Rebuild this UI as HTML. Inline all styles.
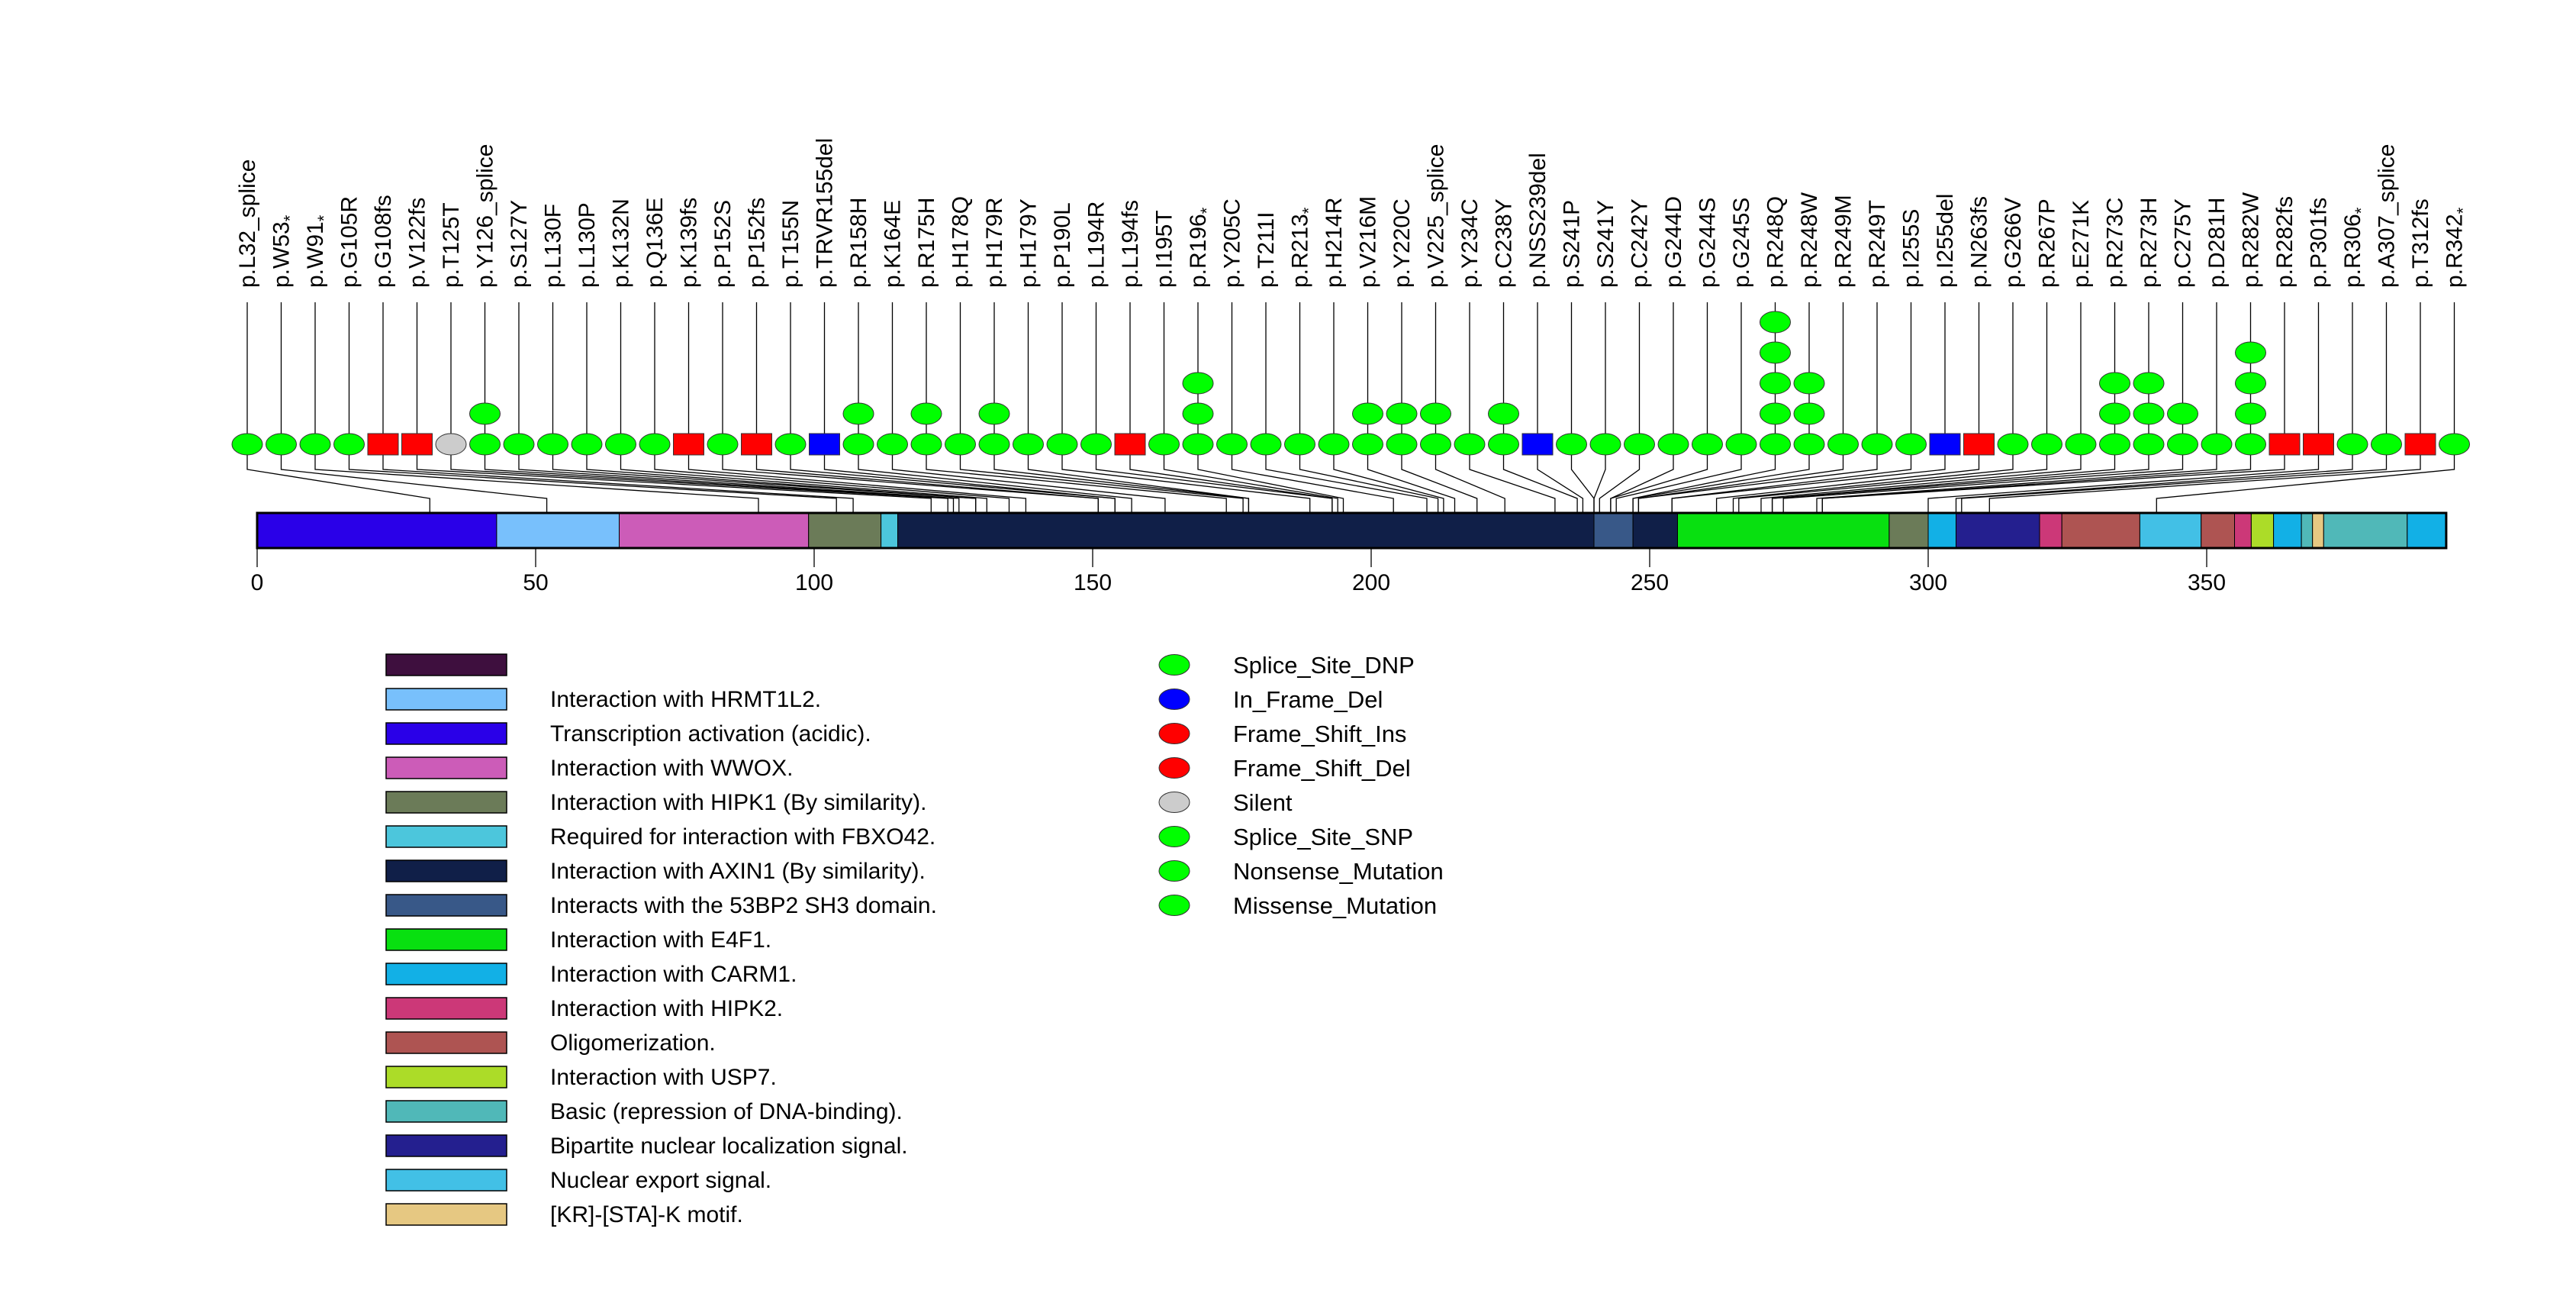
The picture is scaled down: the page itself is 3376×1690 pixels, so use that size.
<!DOCTYPE html>
<html><head><meta charset="utf-8"><style>
html,body{margin:0;padding:0;background:#fff;}
svg{display:block;font-family:"Liberation Sans",Arial,sans-serif;}
</style></head><body>
<svg id="chart" width="3376" height="1690" viewBox="0 0 3376 1690" xmlns="http://www.w3.org/2000/svg">
<rect x="0" y="0" width="3376" height="1690" fill="#fff"/>
<g id="connectors"></g>
<g id="protein"></g>
<g id="axis"></g>
<g id="markers"></g>
<g id="labels"></g>
<g id="legend1"></g>
<g id="legend2"></g>
</svg>
<script>
const mutLabels = ["p.L32_splice","p.W53*","p.W91*","p.G105R","p.G108fs","p.V122fs","p.T125T","p.Y126_splice","p.S127Y","p.L130F","p.L130P","p.K132N","p.Q136E","p.K139fs","p.P152S","p.P152fs","p.T155N","p.TRVR155del","p.R158H","p.K164E","p.R175H","p.H178Q","p.H179R","p.H179Y","p.P190L","p.L194R","p.L194fs","p.I195T","p.R196*","p.Y205C","p.T211I","p.R213*","p.H214R","p.V216M","p.Y220C","p.V225_splice","p.Y234C","p.C238Y","p.NSS239del","p.S241P","p.S241Y","p.C242Y","p.G244D","p.G244S","p.G245S","p.R248Q","p.R248W","p.R249M","p.R249T","p.I255S","p.I255del","p.N263fs","p.G266V","p.R267P","p.E271K","p.R273C","p.R273H","p.C275Y","p.D281H","p.R282W","p.R282fs","p.P301fs","p.R306*","p.A307_splice","p.T312fs","p.R342*"];
const mutPositions = [32,53,91,105,108,122,125,126,127,130,130,132,136,139,152,152,155,155,158,164,175,178,179,179,190,194,194,195,196,205,211,213,214,216,220,225,234,238,239,241,241,242,244,244,245,248,248,249,249,255,255,263,266,267,271,273,273,275,281,282,282,301,306,307,312,342];
const mutCounts = [1,1,1,1,1,1,1,2,1,1,1,1,1,1,1,1,1,1,2,1,2,1,2,1,1,1,1,1,3,1,1,1,1,2,2,2,1,2,1,1,1,1,1,1,1,5,3,1,1,1,1,1,1,1,1,3,3,2,1,4,1,1,1,1,1,1];
const mutTypes = ["g","g","g","g","fs","fs","silent","g","g","g","g","g","g","fs","g","fs","g","del","g","g","g","g","g","g","g","g","fs","g","g","g","g","g","g","g","g","g","g","g","del","g","g","g","g","g","g","g","g","g","g","g","del","fs","g","g","g","g","g","g","g","g","fs","fs","g","g","fs","g"];
const domainStarts = [0,43,65,99,112,115,240,247,255,293,300,305,320,324,338,349,355,358,362,367,369,371,386];
const domainEnds =   [43,65,99,112,115,240,247,255,293,300,305,320,324,338,349,355,358,362,367,369,371,386,393];
const domainColors = ["#2a00e8","#78c0fc","#cc5cb8","#6b7b58","#4cc6dc","#101f48","#385888","#101f48","#08e010","#6b7b58","#12b0e6","#241f8f","#cc3878","#ae5452","#42c0e6","#ae5452","#cc3878","#acdc28","#12b0e6","#50b8b8","#e6c882","#50b8b8","#12b0e6"];
const axisTicks = [0,50,100,150,200,250,300,350];
const legendDomainNames = ["","Interaction with HRMT1L2.","Transcription activation (acidic).","Interaction with WWOX.","Interaction with HIPK1 (By similarity).","Required for interaction with FBXO42.","Interaction with AXIN1 (By similarity).","Interacts with the 53BP2 SH3 domain.","Interaction with E4F1.","Interaction with CARM1.","Interaction with HIPK2.","Oligomerization.","Interaction with USP7.","Basic (repression of DNA-binding).","Bipartite nuclear localization signal.","Nuclear export signal.","[KR]-[STA]-K motif."];
const legendDomainColors = ["#3e0f3e","#78c0fc","#2a00e8","#cc5cb8","#6b7b58","#4cc6dc","#101f48","#385888","#08e010","#12b0e6","#cc3878","#ae5452","#acdc28","#50b8b8","#241f8f","#42c0e6","#e6c882"];
const legendTypeNames = ["Splice_Site_DNP","In_Frame_Del","Frame_Shift_Ins","Frame_Shift_Del","Silent","Splice_Site_SNP","Nonsense_Mutation","Missense_Mutation"];
const legendTypeColors = ["#00ff00","#0000ff","#ff0000","#ff0000","#cccccc","#00ff00","#00ff00","#00ff00"];

const NS="http://www.w3.org/2000/svg";
function mk(tag, attrs, parent){const e=document.createElementNS(NS,tag);for(const k in attrs)e.setAttribute(k,attrs[k]);parent.appendChild(e);return e;}
const xAA = aa => 337 + aa*7.3;
const xMut = aa => xAA(aa-1);
const xSlot = i => 324 + i*44.5;
const barTop=672, barBot=718;
const rowY = k => 582 - k*40;

const conn=document.getElementById('connectors');
const prot=document.getElementById('protein');
const axis=document.getElementById('axis');
const markers=document.getElementById('markers');
const labels=document.getElementById('labels');

for(let i=0;i<domainStarts.length;i++){
  const r=mk('rect',{x:xAA(domainStarts[i]),y:barTop,width:xAA(domainEnds[i])-xAA(domainStarts[i]),height:barBot-barTop,fill:domainColors[i],stroke:'#000','stroke-width':1},prot);
  
  
}
for(let i=0;i<mutPositions.length;i++){
  const mx=xMut(mutPositions[i]), sx=xSlot(i);
  const pl=mk('polyline',{points:`${sx},396 ${sx},615 ${mx},653 ${mx},${barBot}`,fill:'none',stroke:'#000','stroke-width':1.3},conn);
  
  
}
const outline=mk('rect',{x:xAA(0),y:barTop,width:xAA(393)-xAA(0),height:barBot-barTop,fill:'none',stroke:'#000','stroke-width':3},prot);


for(const t of axisTicks){
  const ln=mk('line',{x1:xAA(t),x2:xAA(t),y1:barBot,y2:743,stroke:'#000','stroke-width':1.3},axis);
  
  
  const tx=mk('text',{x:xAA(t),y:773,'font-size':30,'text-anchor':'middle',fill:'#000'},axis);
  tx.textContent=t;
  
  
}
for(let i=0;i<mutPositions.length;i++){
  const sx=xSlot(i);
  for(let k=0;k<mutCounts[i];k++){
    const cy=rowY(k);
    let m;
    if(mutTypes[i]==='fs'||mutTypes[i]==='del'){
      m=mk('rect',{x:sx-20,y:cy-14,width:40,height:28,fill:mutTypes[i]==='fs'?'#ff0000':'#0000ff',stroke:'#333','stroke-width':1},markers);
    } else {
      m=mk('ellipse',{cx:sx,cy:cy,rx:20,ry:14,fill:mutTypes[i]==='silent'?'#cccccc':'#00ff00',stroke:'#333','stroke-width':1},markers);
    }
    
    
  }
  const lbl=mutLabels[i];
  const t=mk('text',{x:0,y:0,'font-size':30,fill:'#000',transform:`translate(${sx+10},377) rotate(-90)`},labels);
  if(lbl.endsWith('*')){
    t.textContent=lbl.slice(0,-1);
    const ts=mk('tspan',{'font-size':22,dy:9},t);
    ts.textContent='*';
  } else t.textContent=lbl;
  
  
}
const lg1=document.getElementById('legend1');
for(let i=0;i<legendDomainNames.length;i++){
  const cy=871+i*45;
  const r=mk('rect',{x:506,y:cy-14,width:158,height:28,fill:legendDomainColors[i],stroke:'#000','stroke-width':1.5},lg1);
  
  
  if(legendDomainNames[i]){
    const t=mk('text',{x:721,y:cy+10,'font-size':30,fill:'#000'},lg1);
    t.textContent=legendDomainNames[i];
    
    
  }
}
const lg2=document.getElementById('legend2');
for(let i=0;i<legendTypeNames.length;i++){
  const cy=871+i*45;
  const e=mk('ellipse',{cx:1539,cy:cy,rx:20,ry:13.5,fill:legendTypeColors[i],stroke:'#333','stroke-width':1},lg2);
  
  
  const t=mk('text',{x:1616,y:cy+11,'font-size':31,fill:'#000'},lg2);
  t.textContent=legendTypeNames[i];
  
  
}
</script>
</body></html>
